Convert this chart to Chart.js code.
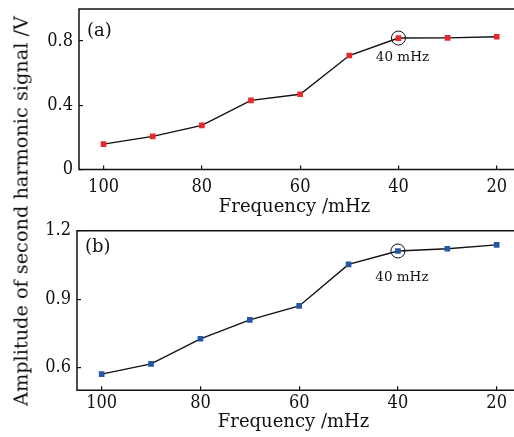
<!DOCTYPE html>
<html>
<head>
<meta charset="utf-8">
<script src="https://cdn.jsdelivr.net/npm/chart.js@4"></script>
<style>
  html, body { margin: 0; padding: 0; background: #fff; }
  #wrap { position: relative; width: 514px; height: 437px; overflow: hidden; }
  .panel { position: absolute; left: 0; width: 514px; }
  #yTitle {
    position: absolute; left: 21px; top: 211px;
    transform: translate(-50%, -50%) rotate(-90deg);
    white-space: nowrap; font: 19.3px "DejaVu Serif", serif; color: #111;
  }
</style>
</head>
<body>
<div id="wrap">
  <div class="panel" style="top:0;height:218px"><canvas id="chartA"></canvas></div>
  <div class="panel" style="top:218px;height:219px"><canvas id="chartB"></canvas></div>
  <div id="yTitle">Amplitude of second harmonic signal /V</div>
</div>
<script>
// 데이터
const freq = [100, 90, 80, 70, 60, 50, 40, 30, 20];
const ampA = [0.158, 0.206, 0.275, 0.431, 0.469, 0.71, 0.819, 0.82, 0.827];
const ampB = [0.571, 0.616, 0.726, 0.809, 0.870, 1.052, 1.111, 1.121, 1.138];
const xTicks = [100, 80, 60, 40, 20];
const yTicksA = [0, 0.4, 0.8];
const yTicksB = [0.6, 0.9, 1.2];

const FONT = '"DejaVu Serif", serif';
const TICK_FONT = '"DejaVu Serif Condensed", "DejaVu Serif", serif';

// 테두리, 패널 라벨, 40 mHz 표시
const notePlugin = {
    id: 'note',
    afterDraw(chart, args, opts) {
        const ctx = chart.ctx;
        const a = chart.chartArea;
        const xs = chart.scales.x, ys = chart.scales.y;
        ctx.save();
        ctx.strokeStyle = '#111';
        ctx.lineWidth = 1.5;
        ctx.beginPath();
        ctx.moveTo(chart.width + 2, a.top);
        ctx.lineTo(a.left, a.top);
        ctx.lineTo(a.left, a.bottom);
        ctx.lineTo(chart.width + 2, a.bottom);
        ctx.stroke();

        ctx.fillStyle = '#111';
        ctx.font = '18px ' + FONT;
        ctx.textAlign = 'left';
        ctx.textBaseline = 'middle';
        ctx.fillText(opts.label, a.left + 8, a.top + opts.labelDy);

        const i = freq.indexOf(opts.markFreq);
        const px = xs.getPixelForValue(freq[i]);
        const py = ys.getPixelForValue(opts.values[i]);
        ctx.lineWidth = 1;
        ctx.beginPath();
        ctx.arc(px, py, 7, 0, Math.PI * 2);
        ctx.stroke();
        ctx.font = '13.5px ' + FONT;
        ctx.textAlign = 'center';
        ctx.fillText(opts.text, px + 4, py + opts.textDy);
        ctx.restore();
    }
};

function makeChart(id, values, color, yMin, yMax, yTicks, cfg) {
    return new Chart(document.getElementById(id), {
        type: 'line',
        data: {
            datasets: [{
                data: freq.map((f, i) => ({ x: f, y: values[i] })),
                borderColor: '#111',
                borderWidth: 1.4,
                pointStyle: 'rect',
                pointRadius: 4,
                pointBorderWidth: 0,
                pointBackgroundColor: color,
                tension: 0
            }]
        },
        options: {
            responsive: true,
            maintainAspectRatio: false,
            animation: false,
            layout: { padding: { top: cfg.top, left: 0, right: 0, bottom: 0 } },
            plugins: {
                legend: { display: false },
                tooltip: { enabled: false },
                note: {
                    label: cfg.label, markFreq: 40, values: values,
                    text: '40 mHz', textDy: cfg.textDy, labelDy: cfg.labelDy
                }
            },
            scales: {
                x: {
                    type: 'linear',
                    reverse: true,
                    min: 17.3,
                    max: 105,
                    afterBuildTicks: s => { s.ticks = xTicks.map(v => ({ value: v })); },
                    afterFit: s => { s.height = cfg.xHeight; s.paddingLeft = 0; s.paddingRight = 0; },
                    border: { display: false },
                    grid: { drawOnChartArea: false, tickLength: -4, color: '#111', lineWidth: 1.2 },
                    ticks: { color: '#111', font: { family: TICK_FONT, size: 18 }, padding: cfg.xPad, maxRotation: 0 },
                    title: {
                        display: true, text: 'Frequency /mHz', color: '#111',
                        font: { family: FONT, size: 18, lineHeight: 1.2 },
                        padding: { top: 0, bottom: cfg.titlePad }
                    }
                },
                y: {
                    min: yMin,
                    max: yMax,
                    afterBuildTicks: s => { s.ticks = yTicks.map(v => ({ value: v })); },
                    afterFit: s => { s.width = cfg.yWidth; s.paddingTop = 0; s.paddingBottom = 0; },
                    border: { display: false },
                    grid: { drawOnChartArea: false, tickLength: -4, color: '#111', lineWidth: 1.2 },
                    ticks: { color: '#111', font: { family: TICK_FONT, size: 18 }, padding: 10,
                             callback: v => String(v) }
                }
            }
        },
        plugins: [notePlugin]
    });
}

makeChart('chartA', ampA, '#e8282c', 0, 1.0, yTicksA,
    { top: 9, label: '(a)', textDy: 19, labelDy: 22, xHeight: 48.5, xPad: 11, titlePad: 0, yWidth: 79 });
makeChart('chartB', ampB, '#2457a6', 0.5, 1.2, yTicksB,
    { top: 12.7, label: '(b)', textDy: 27, labelDy: 17, xHeight: 46.7, xPad: 6, titlePad: 4, yWidth: 77 });
</script>
</body>
</html>
